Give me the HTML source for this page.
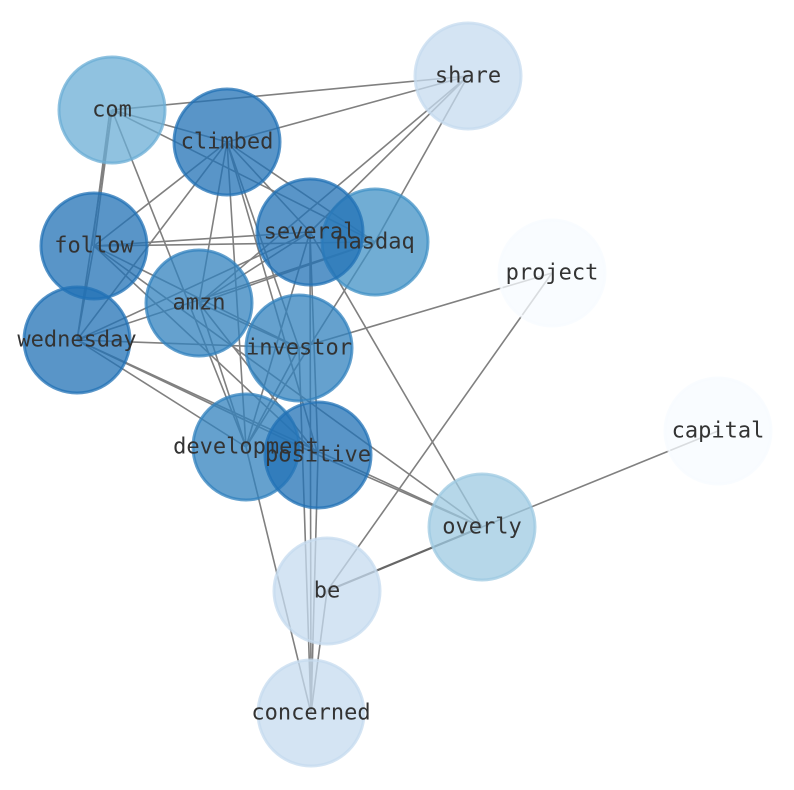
<!DOCTYPE html>
<html><head><meta charset="utf-8"><style>html,body{margin:0;padding:0;background:#fff}svg{display:block}</style></head>
<body>
<svg width="794" height="790" viewBox="0 0 794 790" xmlns="http://www.w3.org/2000/svg">
<g stroke="#808080" stroke-width="1.6" fill="none">
<line x1="112" y1="110" x2="468" y2="76"/>
<line x1="112" y1="110" x2="227" y2="142"/>
<line x1="112" y1="110" x2="94" y2="246"/>
<line x1="110" y1="110" x2="92" y2="246"/>
<line x1="112" y1="110" x2="77" y2="340"/>
<line x1="112" y1="110" x2="375" y2="242"/>
<line x1="112" y1="110" x2="246" y2="447"/>
<line x1="227" y1="142" x2="468" y2="76"/>
<line x1="227" y1="142" x2="94" y2="246"/>
<line x1="227" y1="142" x2="199" y2="303"/>
<line x1="227" y1="142" x2="77" y2="340"/>
<line x1="227" y1="142" x2="310" y2="232"/>
<line x1="227" y1="142" x2="375" y2="242"/>
<line x1="227" y1="142" x2="318" y2="455"/>
<line x1="227" y1="142" x2="246" y2="447"/>
<line x1="227" y1="142" x2="299" y2="348"/>
<line x1="468" y1="76" x2="310" y2="232"/>
<line x1="468" y1="76" x2="375" y2="242"/>
<line x1="468" y1="76" x2="199" y2="303"/>
<line x1="94" y1="246" x2="310" y2="232"/>
<line x1="94" y1="246" x2="375" y2="242"/>
<line x1="94" y1="246" x2="299" y2="348"/>
<line x1="94" y1="246" x2="482" y2="527"/>
<line x1="94" y1="246" x2="318" y2="455"/>
<line x1="94" y1="246" x2="77" y2="340"/>
<line x1="310" y1="232" x2="77" y2="340"/>
<line x1="310" y1="232" x2="199" y2="303"/>
<line x1="310" y1="232" x2="246" y2="447"/>
<line x1="310" y1="232" x2="318" y2="455"/>
<line x1="310" y1="232" x2="311" y2="713"/>
<line x1="310" y1="232" x2="482" y2="527"/>
<line x1="375" y1="242" x2="77" y2="340"/>
<line x1="375" y1="242" x2="199" y2="303"/>
<line x1="375" y1="242" x2="246" y2="447"/>
<line x1="199" y1="303" x2="318" y2="455"/>
<line x1="199" y1="303" x2="246" y2="447"/>
<line x1="199" y1="303" x2="299" y2="348"/>
<line x1="77" y1="340" x2="299" y2="348"/>
<line x1="77" y1="340" x2="318" y2="455"/>
<line x1="77" y1="340" x2="482" y2="527"/>
<line x1="77" y1="340" x2="246" y2="447"/>
<line x1="299" y1="348" x2="552" y2="273"/>
<line x1="299" y1="348" x2="311" y2="713"/>
<line x1="246" y1="447" x2="311" y2="713"/>
<line x1="246" y1="447" x2="299" y2="348"/>
<line x1="318" y1="455" x2="311" y2="713"/>
<line x1="318" y1="455" x2="482" y2="527"/>
<line x1="482" y1="527" x2="718" y2="431"/>
<line x1="482" y1="527" x2="327" y2="591" stroke-width="2.2" stroke="#666"/>
<line x1="327" y1="591" x2="552" y2="273"/>
<line x1="327" y1="591" x2="311" y2="713"/>
</g>
<g stroke-width="3" fill-opacity="0.75" stroke-opacity="0.75">
<circle cx="468" cy="76" r="53" fill="#c6dbef" stroke="#c6dbef"/>
<circle cx="112" cy="110" r="53" fill="#6baed6" stroke="#6baed6"/>
<circle cx="227" cy="142" r="53" fill="#2171b5" stroke="#2171b5"/>
<circle cx="94" cy="246" r="53" fill="#2171b5" stroke="#2171b5"/>
<circle cx="375" cy="242" r="53" fill="#4292c6" stroke="#4292c6"/>
<circle cx="310" cy="232" r="53" fill="#2171b5" stroke="#2171b5"/>
<circle cx="552" cy="273" r="53" fill="#f7fbff" stroke="#f7fbff"/>
<circle cx="199" cy="303" r="53" fill="#3182bd" stroke="#3182bd"/>
<circle cx="77" cy="340" r="53" fill="#2171b5" stroke="#2171b5"/>
<circle cx="299" cy="348" r="53" fill="#3182bd" stroke="#3182bd"/>
<circle cx="718" cy="431" r="53" fill="#f7fbff" stroke="#f7fbff"/>
<circle cx="246" cy="447" r="53" fill="#3182bd" stroke="#3182bd"/>
<circle cx="318" cy="455" r="53" fill="#2171b5" stroke="#2171b5"/>
<circle cx="482" cy="527" r="53" fill="#9ecae1" stroke="#9ecae1"/>
<circle cx="327" cy="591" r="53" fill="#c6dbef" stroke="#c6dbef"/>
<circle cx="311" cy="713" r="53" fill="#c6dbef" stroke="#c6dbef"/>
</g>
<g font-family="'DejaVu Sans Mono','Liberation Mono',monospace" font-size="22" fill="#333" text-anchor="middle" dominant-baseline="central">
<text x="468" y="76">share</text>
<text x="112" y="110">com</text>
<text x="227" y="142">climbed</text>
<text x="94" y="246">follow</text>
<text x="375" y="242">nasdaq</text>
<text x="310" y="232">several</text>
<text x="552" y="273">project</text>
<text x="199" y="303">amzn</text>
<text x="77" y="340">wednesday</text>
<text x="299" y="348">investor</text>
<text x="718" y="431">capital</text>
<text x="246" y="447">development</text>
<text x="318" y="455">positive</text>
<text x="482" y="527">overly</text>
<text x="327" y="591">be</text>
<text x="311" y="713">concerned</text>
</g>
</svg>
</body></html>
